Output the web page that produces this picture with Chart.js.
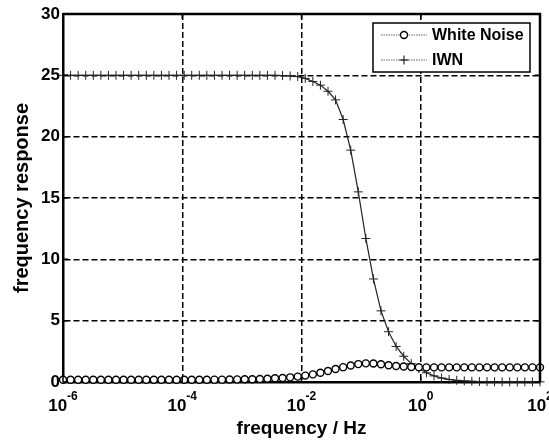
<!DOCTYPE html>
<html>
<head>
<meta charset="utf-8">
<script src="https://cdn.jsdelivr.net/npm/chart.js@4.4.0/dist/chart.umd.min.js"></script>
<style>
  html, body { margin: 0; padding: 0; background: #fff; }
</style>
</head>
<body>
<canvas id="freqChart" width="549" height="442"></canvas>
<script>
// sample frequencies (Hz), 64 points from 1e-6 to 1e2
const freqs = [
  1.000e-6, 1.340e-6, 1.795e-6, 2.405e-6, 3.221e-6, 4.315e-6, 5.780e-6, 7.743e-6,
  1.037e-5, 1.389e-5, 1.861e-5, 2.494e-5, 3.341e-5, 4.475e-5, 5.995e-5, 8.031e-5,
  1.076e-4, 1.441e-4, 1.931e-4, 2.586e-4, 3.465e-4, 4.642e-4, 6.218e-4, 8.330e-4,
  1.116e-3, 1.495e-3, 2.002e-3, 2.683e-3, 3.594e-3, 4.814e-3, 6.449e-3, 8.640e-3,
  1.157e-2, 1.550e-2, 2.077e-2, 2.783e-2, 3.728e-2, 4.994e-2, 6.690e-2, 8.961e-2,
  0.1200, 0.1608, 0.2154, 0.2886, 0.3866, 0.5180, 0.6939, 0.9295,
  1.245, 1.668, 2.235, 2.994, 4.010, 5.372, 7.197, 9.641,
  12.92, 17.30, 23.18, 31.05, 41.60, 55.72, 74.65, 100
];

const whiteNoise = [
  0.18, 0.18, 0.18, 0.18, 0.18, 0.18, 0.18, 0.18, 0.18, 0.18,
  0.18, 0.18, 0.18, 0.18, 0.18, 0.18, 0.18, 0.18, 0.18, 0.18,
  0.19, 0.19, 0.20, 0.21, 0.22, 0.23, 0.25, 0.27, 0.30, 0.33, 0.38, 0.44,
  0.52, 0.62, 0.75, 0.90, 1.06, 1.21, 1.35, 1.46, 1.52, 1.51, 1.45, 1.37, 1.31, 1.26, 1.22, 1.20,
  1.19, 1.19, 1.19, 1.19, 1.19, 1.19, 1.19, 1.19, 1.19, 1.19, 1.19, 1.19, 1.19, 1.19, 1.19, 1.19
];

const iwn = [
  25, 25, 25, 25, 25, 25, 25, 25, 25, 25,
  25, 25, 25, 25, 25, 25, 25, 25, 25, 25,
  25, 25, 25, 25, 25, 25, 25, 25, 25,
  24.98, 24.95, 24.9, 24.75, 24.5, 24.2, 23.7, 23.0, 21.4, 18.9,
  15.5, 11.7, 8.4, 5.8, 4.1, 2.9, 2.1, 1.5, 1.1, 0.75,
  0.5, 0.32, 0.21, 0.14, 0.09, 0.06, 0.04, 0.03, 0.02,
  0.01, 0.01, 0.01, 0.01, 0.01, 0.01
];

const xTickExps = [-6, -4, -2, 0, 2];
const yTicks = [0, 5, 10, 15, 20, 25, 30];

const FONT = '"Liberation Sans", Arial, sans-serif';

function toPoints(ys) {
  return freqs.map((f, i) => ({ x: f, y: ys[i] }));
}

// top/right frame + little inward ticks like matlab
const framePlugin = {
  id: 'frame',
  afterDatasetsDraw(chart) {
    const { ctx, chartArea: a, scales } = chart;
    ctx.save();
    ctx.strokeStyle = '#000';
    ctx.lineWidth = 2.5;
    ctx.beginPath();
    ctx.moveTo(a.left, a.top);
    ctx.lineTo(a.right, a.top);
    ctx.lineTo(a.right, a.bottom);
    ctx.stroke();
    ctx.lineWidth = 1.5;
    ctx.beginPath();
    yTicks.forEach(v => {
      const y = scales.y.getPixelForValue(v);
      ctx.moveTo(a.left, y); ctx.lineTo(a.left + 5, y);
      ctx.moveTo(a.right, y); ctx.lineTo(a.right - 5, y);
    });
    xTickExps.forEach(e => {
      const x = scales.x.getPixelForValue(Math.pow(10, e));
      ctx.moveTo(x, a.bottom); ctx.lineTo(x, a.bottom - 5);
      ctx.moveTo(x, a.top); ctx.lineTo(x, a.top + 5);
    });
    ctx.stroke();
    ctx.restore();
  }
};

// 10^n labels with raised exponent
const expLabels = {
  id: 'expLabels',
  afterDraw(chart) {
    const { ctx, scales } = chart;
    ctx.save();
    ctx.fillStyle = '#000';
    ctx.textBaseline = 'alphabetic';
    ctx.textAlign = 'left';
    xTickExps.forEach(e => {
      const x = scales.x.getPixelForValue(Math.pow(10, e));
      const ex = String(e);
      ctx.font = 'bold 17px ' + FONT;
      const wb = ctx.measureText('10').width;
      ctx.font = 'bold 12px ' + FONT;
      const we = ctx.measureText(ex).width;
      const start = x - (wb + we) / 2;
      ctx.font = 'bold 17px ' + FONT;
      ctx.fillText('10', start, 411);
      ctx.font = 'bold 12px ' + FONT;
      ctx.fillText(ex, start + wb, 400);
    });
    ctx.restore();
  }
};

// boxed legend in the upper right corner
const boxLegend = {
  id: 'boxLegend',
  afterDraw(chart) {
    const { ctx } = chart;
    const bx = 373, by = 23, bw = 157, bh = 49;
    ctx.save();
    ctx.fillStyle = '#fff';
    ctx.fillRect(bx, by, bw, bh);
    ctx.strokeStyle = '#000';
    ctx.lineWidth = 1.5;
    ctx.strokeRect(bx, by, bw, bh);
    chart.data.datasets.forEach((ds, i) => {
      const y = by + 12 + i * 25;
      ctx.strokeStyle = '#666';
      ctx.lineWidth = 1.2;
      ctx.setLineDash([1.5, 1]);
      ctx.beginPath();
      ctx.moveTo(381, y); ctx.lineTo(427, y);
      ctx.stroke();
      ctx.setLineDash([]);
      ctx.strokeStyle = '#000';
      ctx.lineWidth = ds.pointBorderWidth;
      ctx.beginPath();
      if (ds.pointStyle === 'circle') {
        ctx.fillStyle = '#fff';
        ctx.arc(404, y, ds.pointRadius, 0, Math.PI * 2);
        ctx.fill();
      } else {
        ctx.moveTo(404 - ds.pointRadius, y); ctx.lineTo(404 + ds.pointRadius, y);
        ctx.moveTo(404, y - ds.pointRadius); ctx.lineTo(404, y + ds.pointRadius);
      }
      ctx.stroke();
      ctx.fillStyle = '#000';
      ctx.font = 'bold 16px ' + FONT;
      ctx.textBaseline = 'middle';
      ctx.fillText(ds.label, 432, y + 1);
    });
    ctx.restore();
  }
};

const ctx = document.getElementById('freqChart').getContext('2d');

new Chart(ctx, {
  type: 'line',
  data: {
    datasets: [
      {
        label: 'White Noise',
        data: toPoints(whiteNoise),
        borderColor: '#666',
        borderWidth: 1.2,
        borderDash: [1.5, 1.5],
        pointStyle: 'circle',
        pointRadius: 3.5,
        pointBorderColor: '#000',
        pointBackgroundColor: '#fff',
        pointBorderWidth: 1.4,
        clip: false
      },
      {
        label: 'IWN',
        data: toPoints(iwn),
        borderColor: '#222',
        borderWidth: 1.2,
        pointStyle: 'cross',
        pointRadius: 4.5,
        pointBorderColor: '#222',
        pointBorderWidth: 1,
        clip: false
      }
    ]
  },
  options: {
    responsive: false,
    animation: false,
    events: [],
    layout: { padding: { top: 14, right: 9, left: 0, bottom: 0 } },
    plugins: {
      legend: { display: false },
      tooltip: { enabled: false }
    },
    scales: {
      x: {
        type: 'logarithmic',
        min: 1e-6,
        max: 100,
        afterBuildTicks: s => { s.ticks = xTickExps.map(e => ({ value: Math.pow(10, e) })); },
        afterFit: s => { s.height = 60; s.paddingLeft = 0; s.paddingRight = 0; },
        ticks: { display: false },
        grid: { color: '#000', lineWidth: 1.5, drawTicks: false },
        border: { display: true, color: '#000', width: 2.5, dash: [6, 3] },
        title: {
          display: true, text: 'frequency / Hz', color: '#000',
          font: { family: FONT, size: 19, weight: 'bold' }, padding: { top: 0, bottom: 2 }
        }
      },
      y: {
        min: 0,
        max: 30,
        afterBuildTicks: s => { s.ticks = yTicks.map(v => ({ value: v })); },
        afterFit: s => { s.width = 63; },
        ticks: { color: '#000', padding: 3, font: { family: FONT, size: 17, weight: 'bold' } },
        grid: { color: '#000', lineWidth: 1.5, drawTicks: false },
        border: { display: true, color: '#000', width: 2.5, dash: [6, 3] },
        title: {
          display: true, text: 'frequency response', color: '#000',
          font: { family: FONT, size: 20, weight: 'bold' }, padding: { top: 10, bottom: 0 }
        }
      }
    }
  },
  plugins: [framePlugin, expLabels, boxLegend]
});
</script>
</body>
</html>
